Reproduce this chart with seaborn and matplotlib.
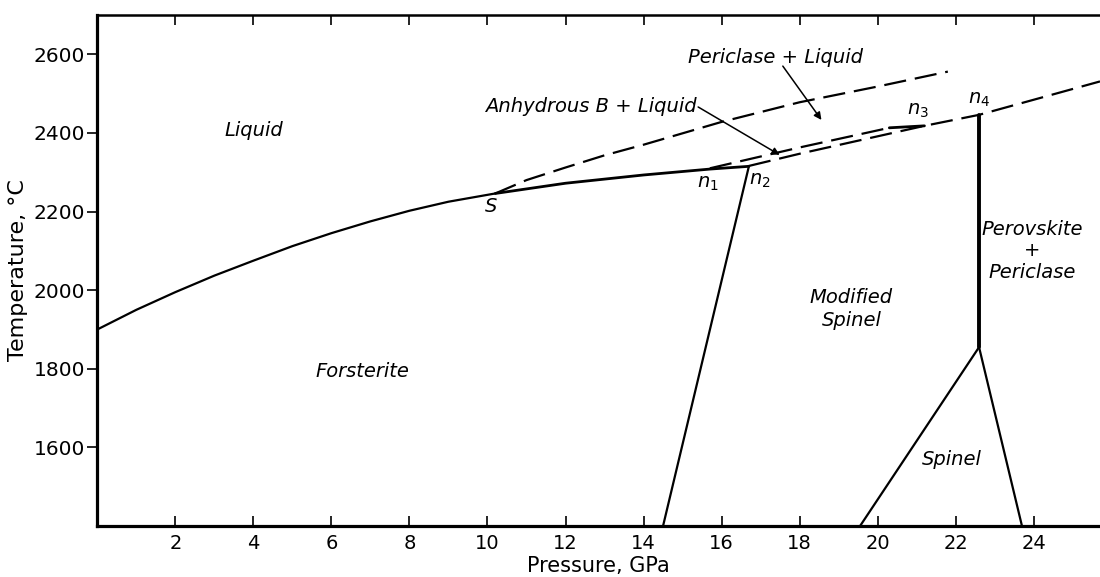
import matplotlib
matplotlib.use("Agg")
import matplotlib.pyplot as plt
import seaborn as sns

# ---- data ----
forst_P = [0, 1, 2, 3, 4, 5, 6, 7, 8, 9, 10.2]
forst_T = [1900, 1950, 1995, 2037, 2075, 2112, 2145, 2175, 2202, 2225, 2246]

sol_P = [10.2, 12, 14, 15.7, 16.7]
sol_T = [2246, 2272, 2293, 2308, 2315]

per_P = [10.2, 11, 12, 13, 14, 16, 18, 20, 21.8]
per_T = [2246, 2280, 2312, 2343, 2370, 2428, 2478, 2518, 2556]

anhB_P = [15.7, 18, 20.3]
anhB_T = [2310, 2363, 2413]

low_P = [16.7, 18, 21.2, 22.6, 25.7]
low_T = [2316, 2347, 2418, 2446, 2531]

n3_P = [20.3, 21.2]
n3_T = [2413, 2418]

n2_P = [16.7, 14.5]
n2_T = [2315, 1400]

n4_P = [22.6, 22.6]
n4_T = [2446, 1855]

spL_P = [22.6, 19.55]
spL_T = [1855, 1400]
spR_P = [22.6, 23.7]
spR_T = [1855, 1400]

xticks = [2, 4, 6, 8, 10, 12, 14, 16, 18, 20, 22, 24]
yticks = [1600, 1800, 2000, 2200, 2400, 2600]

sns.set_style("ticks")
plt.rcParams['font.family'] = ['DejaVu Sans']
plt.rcParams['mathtext.fontset'] = 'dejavusans'
for k in ['text.color', 'axes.labelcolor', 'xtick.color', 'ytick.color', 'axes.edgecolor']:
    plt.rcParams[k] = 'black'

fig = plt.figure(figsize=(11, 5.77), dpi=100)
ax = fig.add_axes([0.0885, 0.0884, 1.0 - 0.0885, 0.974 - 0.0884])

dash = (0, (10, 4))
lw = 1.6

def line(P, T, **kw):
    sns.lineplot(x=P, y=T, ax=ax, sort=False, estimator=None, color='black', **kw)

line(forst_P, forst_T, linewidth=lw)
line(sol_P, sol_T, linewidth=2.0)
line(per_P, per_T, linewidth=lw, linestyle=dash)
line(anhB_P, anhB_T, linewidth=lw, linestyle=dash)
line(low_P, low_T, linewidth=lw, linestyle=dash)
line(n3_P, n3_T, linewidth=2.0)
line(n2_P, n2_T, linewidth=lw)
line(n4_P, n4_T, linewidth=2.8)
line(spL_P, spL_T, linewidth=lw)
line(spR_P, spR_T, linewidth=lw)

ax.set_xlim(0, 25.7)
ax.set_ylim(1400, 2700)
ax.set_xticks(xticks)
ax.set_xticklabels([str(v) for v in xticks])
ax.set_yticks(yticks)
ax.set_yticklabels([str(v) for v in yticks])

ax.tick_params(axis='x', direction='in', top=True, bottom=True, length=7.5, width=1.2,
               labelsize=14, pad=6, colors='black')
ax.tick_params(axis='y', direction='out', left=True, right=False, length=7, width=1.2,
               labelsize=14.5, pad=2, colors='black')

for s in ['left', 'bottom']:
    ax.spines[s].set_linewidth(2.3)
ax.spines['top'].set_linewidth(1.8)
ax.spines['right'].set_visible(False)
for s in ax.spines.values():
    s.set_color('black')

ax.set_xlabel('Pressure, GPa', fontsize=15, labelpad=2, color='black')
ax.set_ylabel('Temperature, °C', fontsize=16, labelpad=4, color='black')

it = dict(style='italic', fontsize=14, color='black')
ax.text(4.0, 2405, 'Liquid', ha='center', va='center', **it)
ax.text(6.8, 1794, 'Forsterite', ha='center', va='center', **it)
ax.text(19.33, 1952, 'Modified\nSpinel', ha='center', va='center', linespacing=1.3, **it)
ax.text(23.97, 2100, 'Perovskite\n+\nPericlase', ha='center', va='center', linespacing=1.15, **it)
ax.text(21.89, 1570, 'Spinel', ha='center', va='center', **it)
ax.text(17.37, 2593, 'Periclase + Liquid', ha='center', va='center', **it)
ax.text(15.36, 2467, 'Anhydrous B + Liquid', ha='right', va='center', **it)

ap = dict(arrowstyle='-|>', lw=1.1, color='black', mutation_scale=11, shrinkA=0, shrinkB=0)
ax.annotate('', xy=(17.49, 2344), xytext=(15.40, 2466), arrowprops=ap)
ax.annotate('', xy=(18.56, 2433), xytext=(17.57, 2570), arrowprops=ap)

ax.text(10.08, 2212, 'S', ha='center', va='center', **it)
nl = dict(fontsize=14, color='black', ha='center', va='center')
ax.text(15.65, 2272, r'$n_{\mathit{1}}$', **nl)
ax.text(16.98, 2280, r'$n_{\mathit{2}}$', **nl)
ax.text(21.03, 2458, r'$n_{\mathit{3}}$', **nl)
ax.text(22.61, 2484, r'$n_{\mathit{4}}$', **nl)

fig.savefig('out.png', dpi=100)
